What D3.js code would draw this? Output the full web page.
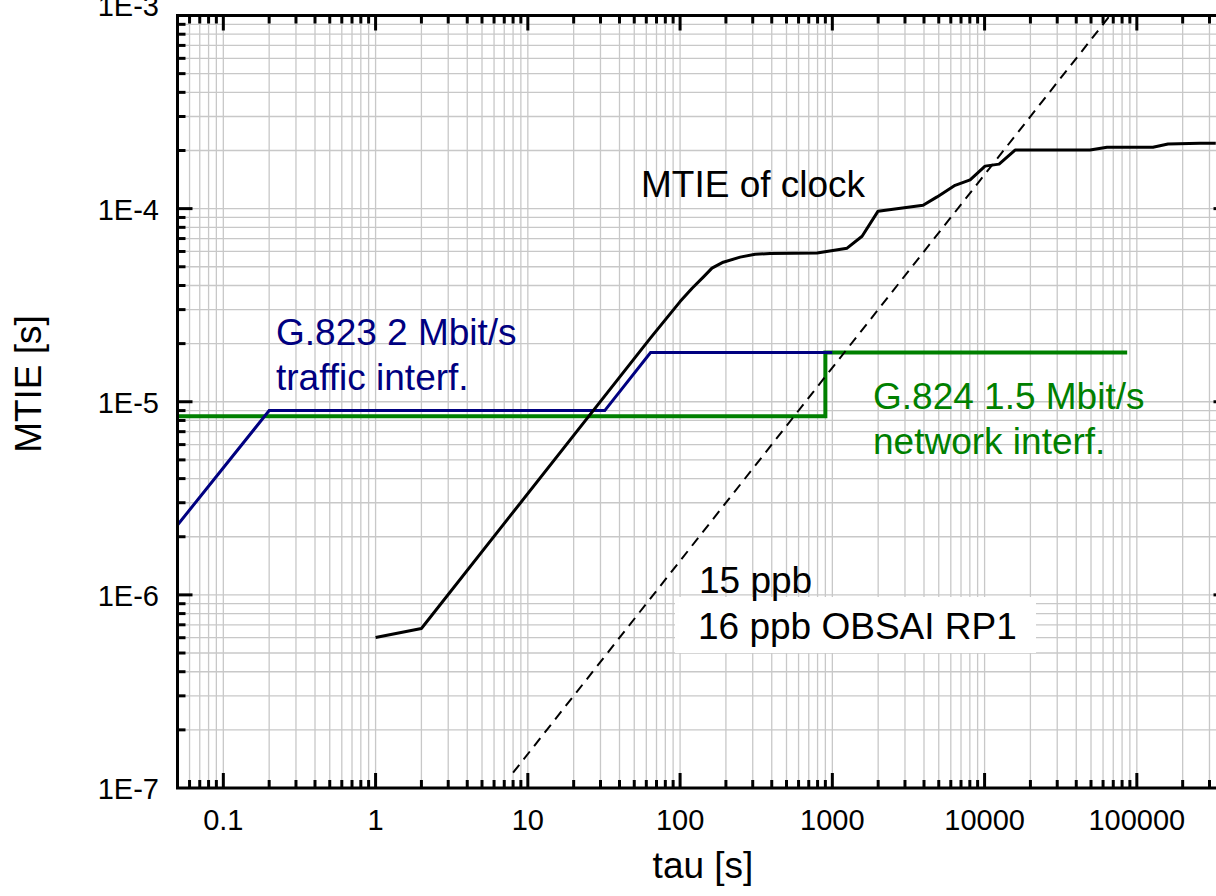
<!DOCTYPE html>
<html>
<head>
<meta charset="utf-8">
<script src="https://cdn.jsdelivr.net/npm/d3@7/dist/d3.min.js"></script>
<style>
  html, body { margin: 0; padding: 0; background: #fff; }
  svg { display: block; font-family: "Liberation Sans", Arial, sans-serif; }
</style>
</head>
<body>
<svg id="chart" width="1216" height="896"></svg>
<script>
// Measured MTIE of the clock under test
const clockTau  = [1, 2, 64, 100, 120, 142, 162, 192, 248, 311, 390, 794, 1250, 1568, 1997, 2505, 3945, 4875, 6400, 8035, 10075, 12450, 15850, 49300, 63700, 127700, 160200, 260000, 330000];
const clockMtie = [6.02e-7, 6.70e-7, 2.14e-5, 3.3e-5, 3.87e-5, 4.42e-5, 4.92e-5, 5.28e-5, 5.61e-5, 5.81e-5, 5.85e-5, 5.89e-5, 6.24e-5, 7.19e-5, 9.7e-5, 9.93e-5, 1.04e-4, 1.15e-4, 1.32e-4, 1.41e-4, 1.66e-4, 1.70e-4, 2.01e-4, 2.01e-4, 2.08e-4, 2.08e-4, 2.16e-4, 2.18e-4, 2.18e-4];

// G.823 2 Mbit/s traffic interface mask
const g823Tau  = [0.05, 0.2, 32, 64, 1000];
const g823Mtie = [2.3e-6, 9e-6, 9e-6, 1.8e-5, 1.8e-5];

// G.824 1.5 Mbit/s network interface mask
const g824Tau  = [0.05, 900, 900, 86400];
const g824Mtie = [8.4e-6, 8.4e-6, 1.8e-5, 1.8e-5];

// 15 ppb frequency-offset line
const ppbTau  = [8, 66667];
const ppbMtie = [1.2e-7, 1.0e-3];

// Axis tick labels
const xTickValues = [0.1, 1, 10, 100, 1000, 10000, 100000];
const xTickLabels = ["0.1", "1", "10", "100", "1000", "10000", "100000"];
const yTickValues = [1e-7, 1e-6, 1e-5, 1e-4, 1e-3];
const yTickLabels = ["1E-7", "1E-6", "1E-5", "1E-4", "1E-3"];

const svg = d3.select("#chart");
const pL = 177.5, pR = 1228.5, pT = 15.5, pB = 788;

const x = d3.scaleLog().domain([0.05, 4e5]).range([pL, pR]);
const y = d3.scaleLog().domain([1e-7, 1e-3]).range([pB, pT]);

// all 1..9 multiples per decade
function decadeTicks(lo, hi) {
  const out = [];
  for (let e = Math.floor(Math.log10(lo)); e <= Math.ceil(Math.log10(hi)); e++) {
    for (let m = 1; m <= 9; m++) {
      const v = +(m * Math.pow(10, e)).toPrecision(6);
      if (v >= lo * 0.9999 && v <= hi * 1.0001) out.push({ v, major: m === 1 });
    }
  }
  return out;
}
const xTicks = decadeTicks(0.05, 4e5);
const yTicks = decadeTicks(1e-7, 1e-3);

svg.append("defs").append("clipPath").attr("id", "plot")
  .append("rect").attr("x", pL).attr("y", pT)
  .attr("width", pR - pL).attr("height", pB - pT);

// grid
const grid = svg.append("g").attr("stroke", "#c8c8c8").attr("stroke-width", 1.3);
grid.selectAll(".gx").data(xTicks).join("line")
  .attr("x1", d => x(d.v)).attr("x2", d => x(d.v))
  .attr("y1", pT).attr("y2", pB);
grid.selectAll(".gy").data(yTicks).join("line")
  .attr("x1", pL).attr("x2", pR)
  .attr("y1", d => y(d.v)).attr("y2", d => y(d.v));

// white label backing
svg.append("rect").attr("x", 675).attr("y", 597).attr("width", 361).attr("height", 56)
  .attr("fill", "#fff");

const plot = svg.append("g").attr("clip-path", "url(#plot)");
const line = d3.line().x(d => x(d[0])).y(d => y(d[1]));

plot.append("path").datum(d3.zip(g824Tau, g824Mtie))
  .attr("d", line).attr("fill", "none").attr("stroke", "#008000").attr("stroke-width", 4);
plot.append("path").datum(d3.zip(g823Tau, g823Mtie))
  .attr("d", line).attr("fill", "none").attr("stroke", "#000080").attr("stroke-width", 3);
plot.append("path").datum(d3.zip(clockTau, clockMtie))
  .attr("d", line).attr("fill", "none").attr("stroke", "#000").attr("stroke-width", 3)
  .attr("stroke-linejoin", "round");
plot.append("path").datum(d3.zip(ppbTau, ppbMtie))
  .attr("d", line).attr("fill", "none").attr("stroke", "#000").attr("stroke-width", 2)
  .attr("stroke-dasharray", "10,7");

// annotations
const big = 37;
function label(tx, ty, str, color) {
  svg.append("text").attr("x", tx).attr("y", ty).attr("font-size", big)
    .attr("fill", color).text(str);
}
label(641, 197, "MTIE of clock", "#000");
label(276, 345, "G.823 2 Mbit/s", "#000080");
label(276, 390, "traffic interf.", "#000080");
label(873, 409, "G.824 1.5 Mbit/s", "#008000");
label(873, 454, "network interf.", "#008000");
label(699, 593, "15 ppb", "#000");
label(698, 639, "16 ppb OBSAI RP1", "#000");

// axes frame and ticks
const ax = svg.append("g").attr("stroke", "#000").attr("stroke-width", 3);
const tl = d => d.major ? 15 : 8;
const xt = xTicks.filter(d => x(d.v) > pL + 1 && x(d.v) < pR - 1);
const yt = yTicks.filter(d => y(d.v) > pT + 1 && y(d.v) < pB - 1);
ax.selectAll(".tb").data(xt).join("line")
  .attr("x1", d => x(d.v)).attr("x2", d => x(d.v)).attr("y1", pB).attr("y2", d => pB - tl(d));
ax.selectAll(".tt").data(xt).join("line")
  .attr("x1", d => x(d.v)).attr("x2", d => x(d.v)).attr("y1", pT).attr("y2", d => pT + tl(d));
ax.selectAll(".tl").data(yt).join("line")
  .attr("y1", d => y(d.v)).attr("y2", d => y(d.v)).attr("x1", pL).attr("x2", d => pL + tl(d));
ax.selectAll(".tr").data(yt).join("line")
  .attr("y1", d => y(d.v)).attr("y2", d => y(d.v)).attr("x1", pR).attr("x2", d => pR - tl(d));
svg.append("rect").attr("x", pL).attr("y", pT).attr("width", pR - pL).attr("height", pB - pT)
  .attr("fill", "none").attr("stroke", "#000").attr("stroke-width", 3);

// tick labels (the topmost one sits a little higher, against the page edge)
svg.append("g").selectAll("text").data(xTickValues).join("text")
  .attr("x", d => x(d)).attr("y", 830).attr("text-anchor", "middle")
  .attr("font-size", 29).attr("fill", "#000")
  .text((d, i) => xTickLabels[i]);
svg.append("g").selectAll("text").data(yTickValues).join("text")
  .attr("x", 159).attr("y", (d, i) => y(d) + (i === yTickValues.length - 1 ? 0 : 11))
  .attr("text-anchor", "end")
  .attr("font-size", 29).attr("fill", "#000")
  .text((d, i) => yTickLabels[i]);

// axis titles
svg.append("text").attr("x", 703).attr("y", 878).attr("text-anchor", "middle")
  .attr("font-size", big).attr("fill", "#000").text("tau [s]");
svg.append("text").attr("transform", "translate(41,384) rotate(-90)").attr("text-anchor", "middle")
  .attr("font-size", big).attr("fill", "#000").text("MTIE [s]");
</script>
</body>
</html>
